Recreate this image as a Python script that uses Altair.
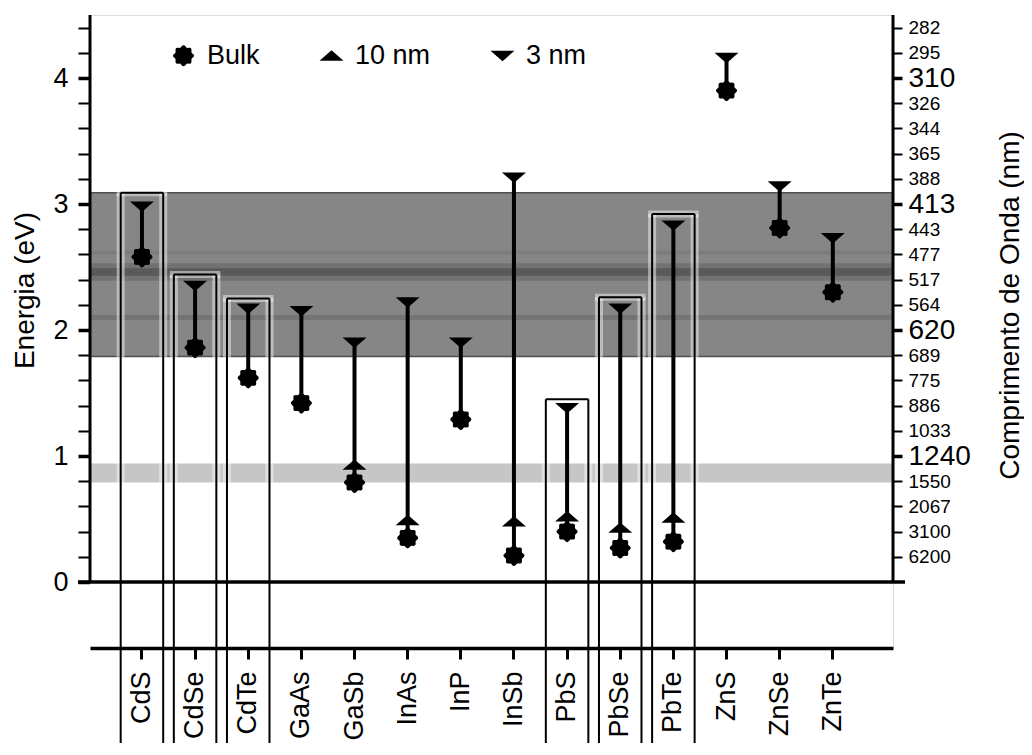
import math
import altair as alt
import pandas as pd

# ---------------- data ----------------
materials = ["CdS", "CdSe", "CdTe", "GaAs", "GaSb", "InAs", "InP",
             "InSb", "PbS", "PbSe", "PbTe", "ZnS", "ZnSe", "ZnTe"]
bulk_ev = [2.58, 1.86, 1.62, 1.42, 0.79, 0.35, 1.29, 0.21, 0.40, 0.27, 0.32, 3.90, 2.81, 2.30]
nm10_ev = [None, None, None, None, 0.93, 0.49, None, 0.48, 0.52, 0.43, 0.51, None, None, None]
nm3_ev = [2.98, 2.35, 2.17, 2.15, 1.90, 2.22, 1.90, 3.21, 1.38, 2.17, 2.83, 4.16, 3.14, 2.73]
series_names = ["Bulk", "10 nm", "3 nm"]

box_materials = ["CdS", "CdSe", "CdTe", "PbS", "PbSe", "PbTe"]
box_top_ev = [3.09, 2.44, 2.25, 1.45, 2.26, 2.92]

visible_band_ev = [1.79, 3.09]
ir_band_ev = [0.79, 0.94]

left_tick_values = [round(0.2 * i, 1) for i in range(0, 23)]
right_tick_values = [round(0.2 * i, 1) for i in range(1, 23)]
wavelength_labels = ["6200", "3100", "2067", "1550", "1240", "1033", "886", "775",
                     "689", "620", "564", "517", "477", "443", "413", "388", "365",
                     "344", "326", "310", "295", "282"]

# ---------------- layout / style ----------------
FONT = "Liberation Sans, Arial, sans-serif"
W, H = 803, 633
PAD = {"left": 82, "top": 7, "right": 131, "bottom": 95}
PX_PER_EV = 126.0
Y_MAX = 4.5
Y_MIN = Y_MAX - H / PX_PER_EV
BOX_FRAC = 0.8

band_stripes = [
    (2.39, 2.53, "#727272"),
    (2.43, 2.49, "#5a5a5a"),
    (2.60, 2.63, "#7c7c7c"),
    (2.08, 2.12, "#747474"),
]

# ---------------- tables ----------------
wide = pd.DataFrame({"material": materials, "bulk": bulk_ev, "nm3": nm3_ev})
rows = []
for m, b, t, s in zip(materials, bulk_ev, nm10_ev, nm3_ev):
    for name, v in zip(series_names, [b, t, s]):
        if v is not None:
            rows.append({"material": m, "series": name, "ev": v})
long = pd.DataFrame(rows)
boxes = pd.DataFrame({"material": box_materials, "top": box_top_ev})
vis = pd.DataFrame({"lo": [visible_band_ev[0]], "hi": [visible_band_ev[1]]})
ir = pd.DataFrame({"lo": [ir_band_ev[0]], "hi": [ir_band_ev[1]]})
stripes = pd.DataFrame({"lo": [s[0] for s in band_stripes],
                        "hi": [s[1] for s in band_stripes],
                        "c": [s[2] for s in band_stripes]})
below_zero = pd.DataFrame({"lo": [Y_MIN], "hi": [0.0]})
zero_df = pd.DataFrame({"e": [0.0]})
vaxis_df = pd.DataFrame({"e0": [0.0], "e1": [Y_MAX]})

# ---------------- scales & axes ----------------
yscale = alt.Scale(domain=[Y_MIN, Y_MAX], nice=False, zero=False)
xscale = alt.Scale(type="band", domain=materials, paddingInner=0,
                   paddingOuter=0.555, align=0.43)

is_int = "abs(datum.value - round(datum.value)) < 0.001"

x_axis = alt.Axis(orient="bottom", title=None, labelAngle=270, labelAlign="right",
                  labelBaseline="middle", labelFont=FONT, labelFontSize=27,
                  labelColor="black", labelPadding=12, tickSize=11, tickWidth=3,
                  tickColor="black", domainWidth=3.5, domainColor="black",
                  grid=False, zindex=1)

left_axis = alt.Axis(orient="left", values=left_tick_values,
                     labelExpr=f"{is_int} ? format(datum.value, 'd') : ''",
                     tickSize=12,
                     tickWidth={"condition": {"test": is_int, "value": 3.5}, "value": 2},
                     tickColor="black", domain=False, grid=False,
                     labelFont=FONT, labelFontSize=27, labelColor="black",
                     labelPadding=10, labelOverlap=False,
                     title="Energia (eV)", titleFont=FONT, titleFontSize=28,
                     titleFontWeight="normal", titleColor="black", titleAngle=270,
                     titleX=-65, titleY=275, titleAlign="center",
                     titleBaseline="middle")

wl_array = "[" + ",".join(f"'{w}'" for w in wavelength_labels) + "]"
right_axis = alt.Axis(orient="right", values=right_tick_values,
                      labelExpr=f"{wl_array}[round(datum.value * 5) - 1]",
                      tickSize=9,
                      tickWidth={"condition": {"test": is_int, "value": 3.5}, "value": 2},
                      tickColor="black", domain=False, grid=False,
                      labelFont=FONT,
                      labelFontSize={"condition": {"test": is_int, "value": 28}, "value": 19},
                      labelColor="black", labelPadding=6, labelOverlap=False,
                      title="Comprimento de Onda (nm)", titleFont=FONT,
                      titleFontSize=28, titleFontWeight="normal", titleColor="black",
                      titleAngle=270, titleX=117, titleY=290, titleAlign="center",
                      titleBaseline="middle")


def X(bp=0.5):
    return alt.X("material:N", scale=xscale, axis=x_axis, bandPosition=bp)


def Yq(field, axis=None):
    return alt.Y(field, type="quantitative", scale=yscale, axis=axis)


# ---------------- layers ----------------
ir_layer = alt.Chart(ir).mark_rect(color="#c6c6c6").encode(
    y=Yq("lo", left_axis), y2="hi:Q")

vis_layer = alt.Chart(vis).mark_rect(color="#868686", stroke="#505050",
                                     strokeWidth=1.5).encode(
    y=Yq("lo", right_axis), y2="hi:Q")

stripe_layer = alt.Chart(stripes).mark_rect().encode(
    y=Yq("lo"), y2="hi:Q", color=alt.Color("c:N", scale=None))

white_below = alt.Chart(below_zero).mark_rect(color="white", opacity=1).encode(
    y=Yq("lo"), y2="hi:Q")

bottom_px = H + PAD["bottom"]
box_w = BOX_FRAC * W / (len(materials) + 2 * 0.555)

halo_v = [
    alt.Chart(boxes).mark_rule(color="white", strokeWidth=8, opacity=0.45).encode(
        x=X(bp), y=Yq("top"), y2=alt.value(bottom_px))
    for bp in (0.5 - BOX_FRAC / 2, 0.5 + BOX_FRAC / 2)
]
halo_top = alt.Chart(boxes).mark_tick(color="white", thickness=7, size=box_w + 8,
                                      opacity=0.45).encode(x=X(), y=Yq("top"))

box_v = [
    alt.Chart(boxes).mark_rule(color="black", strokeWidth=2).encode(
        x=X(bp), y=Yq("top"), y2=alt.value(bottom_px))
    for bp in (0.5 - BOX_FRAC / 2, 0.5 + BOX_FRAC / 2)
]
box_top = alt.Chart(boxes).mark_tick(color="black", thickness=2, size=box_w,
                                     opacity=1).encode(x=X(), y=Yq("top"))

zero_line = alt.Chart(zero_df).mark_rule(color="black", strokeWidth=3.5).encode(
    y=Yq("e"), x=alt.value(-12), x2=alt.value(W + 12))
left_line = alt.Chart(vaxis_df).mark_rule(color="black", strokeWidth=3).encode(
    x=alt.value(0), y=Yq("e0"), y2="e1:Q")
right_line = alt.Chart(vaxis_df).mark_rule(color="black", strokeWidth=3).encode(
    x=alt.value(W), y=Yq("e0"), y2="e1:Q")

stems = alt.Chart(wide).mark_rule(color="black", strokeWidth=4).encode(
    x=X(), y=Yq("bulk"), y2="nm3:Q")

# marker shapes
pts = []
for i in range(64):
    t = 2 * math.pi * i / 64
    r = 0.80 + 0.08 * math.cos(8 * t)
    pts.append(f"{r * math.cos(t):.3f},{r * math.sin(t):.3f}")
bulk_path = "M" + "L".join(pts) + "Z"
up_path = "M-1,0.42L1,0.42L0,-0.45Z"
down_path = "M-1,-0.42L1,-0.42L0,0.45Z"

points = alt.Chart(long).mark_point(filled=True, color="black", opacity=1,
                                    size=576, strokeWidth=0).encode(
    x=X(), y=Yq("ev"),
    shape=alt.Shape("series:N",
                    scale=alt.Scale(domain=series_names,
                                    range=[bulk_path, up_path, down_path]),
                    legend=alt.Legend(orient="none", legendX=80, legendY=27,
                                      direction="horizontal", title=None,
                                      labelFont=FONT, labelFontSize=27,
                                      labelColor="black", symbolSize=576,
                                      symbolFillColor="black",
                                      symbolStrokeColor="black",
                                      symbolStrokeWidth=0, labelOffset=10,
                                      columnPadding=58, padding=0)))

chart = alt.layer(
    ir_layer, vis_layer, stripe_layer, white_below,
    *halo_v, halo_top, *box_v, box_top,
    stems, points,
    zero_line, left_line, right_line,
).resolve_scale(y="shared", x="shared").resolve_axis(y="independent").properties(
    width=W, height=H,
    autosize=alt.AutoSizeParams(type="none"),
    padding=PAD,
).configure_view(stroke=None).configure(background="white")

chart.save("out.html", embed_options={"renderer": "svg", "actions": False})
